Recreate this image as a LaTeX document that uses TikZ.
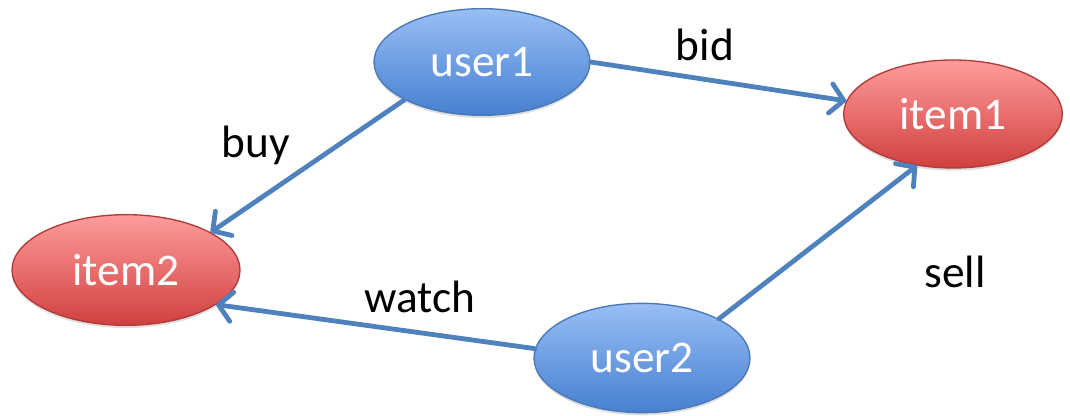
\documentclass[tikz,border=0pt]{standalone}
\usepackage{fontspec}
\setmainfont{Carlito}
\usetikzlibrary{shapes.geometric,arrows.meta,shadows}
\definecolor{arrowblue}{HTML}{4F81BD}
\definecolor{bluetop}{HTML}{98BEF5}
\definecolor{bluebot}{HTML}{4680D0}
\definecolor{blueedge}{HTML}{4A78B4}
\definecolor{redtop}{HTML}{FF9C9C}
\definecolor{redbot}{HTML}{D0403E}
\definecolor{rededge}{HTML}{B03A38}
\tikzset{
  usernode/.style={ellipse, draw=blueedge, line width=1pt, top color=bluetop, bottom color=bluebot,
    text=white, font=\fontsize{34}{40}\selectfont, inner sep=0pt,
    drop shadow={opacity=0.25, shadow xshift=0pt, shadow yshift=-2pt}},
  itemnode/.style={ellipse, draw=rededge, line width=1pt, top color=redtop, bottom color=redbot,
    text=white, font=\fontsize{34}{40}\selectfont, inner sep=0pt,
    drop shadow={opacity=0.25, shadow xshift=0pt, shadow yshift=-2pt}},
  edge/.style={draw=arrowblue, line width=3.6pt, line cap=round,
    -{Straight Barb[length=10pt, width=22pt, line cap=round, line join=round]}},
  lbl/.style={font=\fontsize{34}{40}\selectfont, text=black, inner sep=0pt}
}
\begin{document}
\begin{tikzpicture}[x=0.75pt, y=-0.75pt]
\useasboundingbox (0,0) rectangle (1070,416);
\node[usernode, minimum width=162pt, minimum height=80pt] (user1) at (482,62) {user1};
\node[itemnode, minimum width=164pt, minimum height=81pt] (item1) at (953,114) {item1};
\node[itemnode, minimum width=171pt, minimum height=83pt] (item2) at (126,270) {item2};
\node[usernode, minimum width=162pt, minimum height=82pt] (user2) at (642,358) {user2};
\draw[edge] (user1.0) -- (item1.173);
\draw[edge] (user1.206) -- (item2.24);
\draw[edge] (user2.27) -- (item1.235);
\draw[edge] (user2.175) -- (item2.339);
\node[lbl] (bid) at (705,45) {bid};
\node[lbl] (buy) at (256,145) {buy};
\node[lbl] (watch) at (420,297) {watch};
\node[lbl] (sell) at (955,272) {sell};
\end{tikzpicture}
\end{document}
